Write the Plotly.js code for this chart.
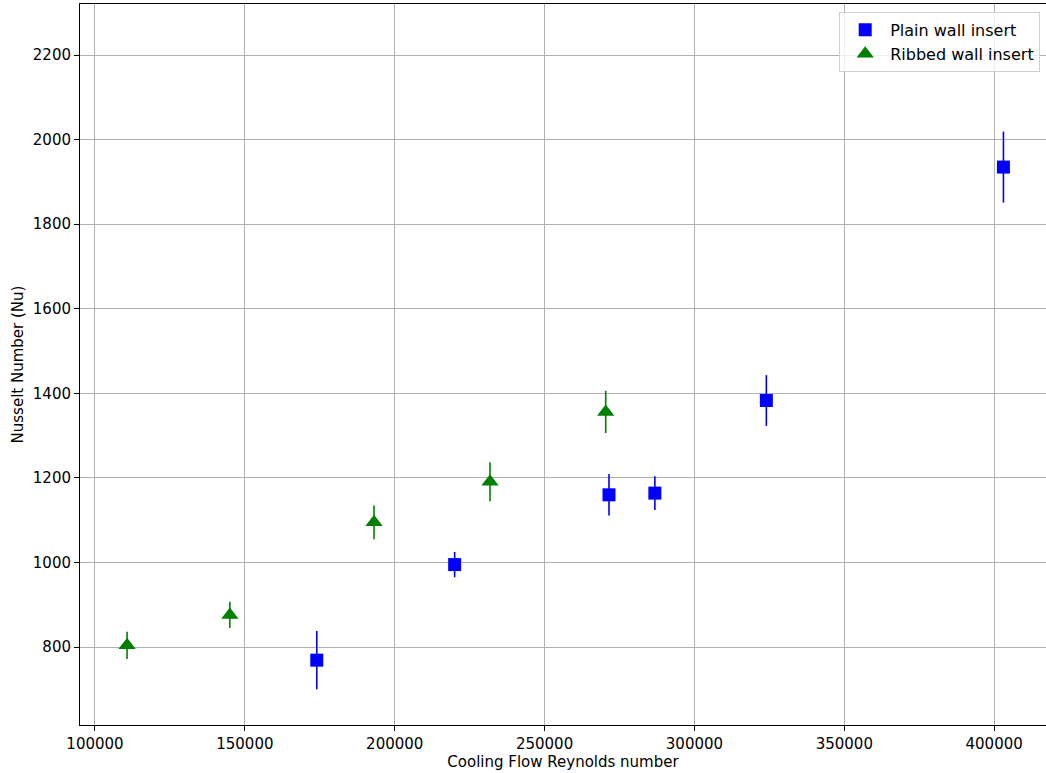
<!DOCTYPE html>
<html>
<head>
<meta charset="utf-8">
<script src="https://cdn.plot.ly/plotly-3.0.1.min.js"></script>
<style>html,body{margin:0;padding:0;background:#fff;}#chart{width:1046px;height:773px;}</style>
</head>
<body>
<div id="chart"></div>
<script>
// Plain wall insert
const plainRe = [174000, 220000, 271500, 286800, 324000, 403100];
const plainNu = [769, 995, 1160, 1164, 1383, 1935];
const plainErr = [69, 30, 49, 40, 60, 84];

// Ribbed wall insert
const ribbedRe = [110700, 145000, 193100, 231800, 270400];
const ribbedNu = [804, 876, 1095, 1191, 1356];
const ribbedErr = [32, 31, 40, 46, 50];

const xTicks = [100000, 150000, 200000, 250000, 300000, 350000, 400000];
const yTicks = [800, 1000, 1200, 1400, 1600, 1800, 2000, 2200];

const font = {family: 'DejaVu Sans, sans-serif', size: 15, color: '#000'};
const legendFont = {family: 'DejaVu Sans, sans-serif', size: 16, color: '#000'};

const traces = [
  {
    x: plainRe, y: plainNu, name: 'Plain wall insert', type: 'scatter', mode: 'markers',
    marker: {symbol: 'square', size: 13, color: '#0000ff'},
    error_y: {type: 'data', array: plainErr, visible: true, width: 0, thickness: 1.6, color: '#0000ff'}
  },
  {
    x: ribbedRe, y: ribbedNu, name: 'Ribbed wall insert', type: 'scatter', mode: 'markers',
    marker: {symbol: 'triangle-up', size: 15, color: '#008000'},
    error_y: {type: 'data', array: ribbedErr, visible: true, width: 0, thickness: 1.6, color: '#008000'}
  }
];

const layout = {
  width: 1046, height: 773,
  margin: {l: 80, r: 0, t: 4, b: 48},
  paper_bgcolor: '#fff', plot_bgcolor: '#fff',
  font: font,
  showlegend: true,
  legend: {
    x: 0.994, y: 0.989, xanchor: 'right', yanchor: 'top',
    bgcolor: 'rgba(255,255,255,0.8)', bordercolor: '#d0d0d0', borderwidth: 1,
    font: legendFont, itemwidth: 40
  },
  xaxis: {
    range: [95000, 417300],
    tickvals: xTicks, ticktext: xTicks.map(String),
    showgrid: true, gridcolor: '#b0b0b0', gridwidth: 1,
    showline: true, linecolor: '#000', linewidth: 1, mirror: true,
    ticks: 'outside', ticklen: 5, tickcolor: '#000',
    zeroline: false,
    title: {text: 'Cooling Flow Reynolds number', font: font, standoff: 3}
  },
  yaxis: {
    range: [615.7, 2320.6],
    tickvals: yTicks, ticktext: yTicks.map(String),
    showgrid: true, gridcolor: '#b0b0b0', gridwidth: 1,
    showline: true, linecolor: '#000', linewidth: 1, mirror: true,
    ticks: 'outside', ticklen: 5, tickcolor: '#000',
    zeroline: false,
    title: {text: 'Nusselt Number (Nu)', font: font, standoff: 5}
  }
};

Plotly.newPlot('chart', traces, layout, {displayModeBar: false, staticPlot: true});
</script>
</body>
</html>
